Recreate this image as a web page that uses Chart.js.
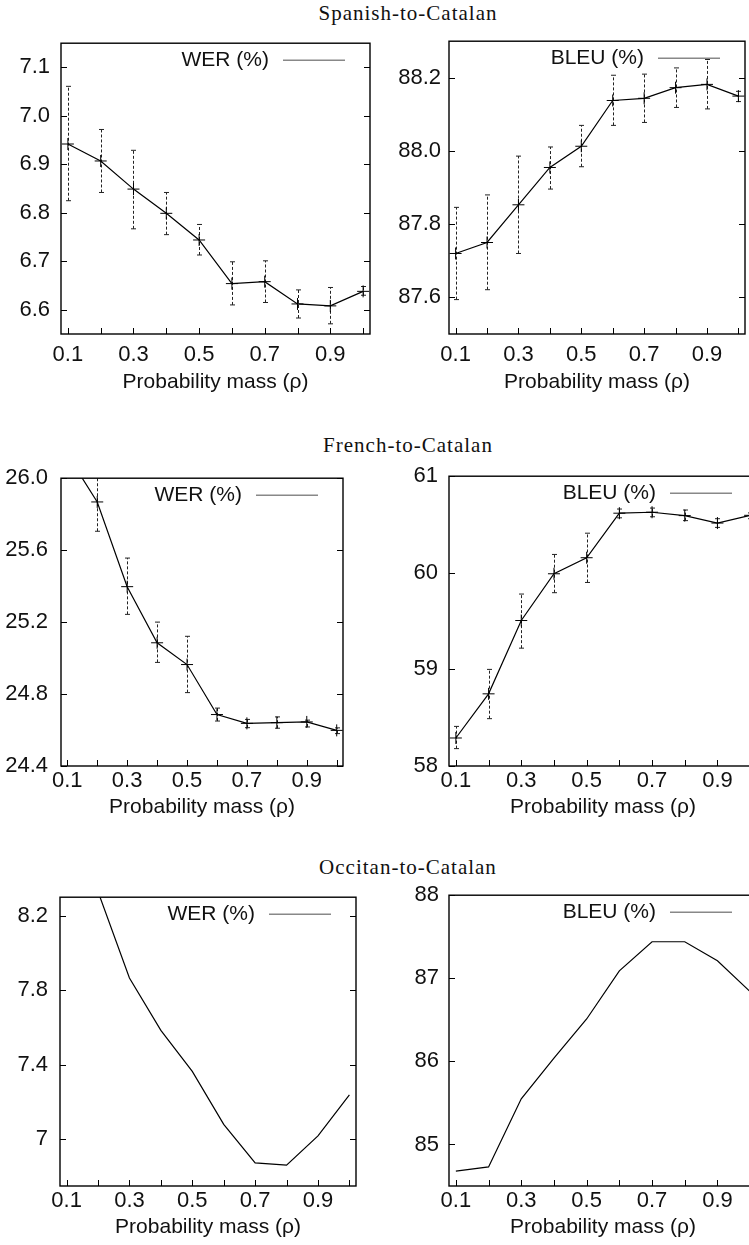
<!DOCTYPE html>
<html>
<head>
<meta charset="utf-8">
<script src="https://cdn.jsdelivr.net/npm/chart.js@4.4.0/dist/chart.umd.min.js"></script>
<style>
html, body { margin: 0; padding: 0; background: #fff; overflow: hidden; }
body { position: relative; width: 749px; height: 1245px; }
canvas { position: absolute; }
.row-title {
    position: absolute; left: 208px; width: 400px; text-align: center;
    font-family: "Liberation Serif", serif; font-size: 21px; letter-spacing: 1px;
    line-height: 21px; color: #111; white-space: nowrap;
}
</style>
</head>
<body>
<div class="row-title" style="top:3px">Spanish-to-Catalan</div>
<div class="row-title" style="top:435px">French-to-Catalan</div>
<div class="row-title" style="top:857px">Occitan-to-Catalan</div>
<canvas id="esWer"></canvas>
<canvas id="esBleu"></canvas>
<canvas id="frWer"></canvas>
<canvas id="frBleu"></canvas>
<canvas id="ocWer"></canvas>
<canvas id="ocBleu"></canvas>
<script>
// x values (probability mass rho)
const mass = [0.1, 0.2, 0.3, 0.4, 0.5, 0.6, 0.7, 0.8, 0.9, 1.0];
const massLabelled = [0.1, 0.3, 0.5, 0.7, 0.9];

// Spanish-to-Catalan
const werEs = [6.942, 6.907, 6.849, 6.799, 6.744, 6.654, 6.658, 6.612, 6.608, 6.638];
const werEsLow = [6.825, 6.842, 6.767, 6.755, 6.713, 6.610, 6.615, 6.583, 6.571, 6.630];
const werEsHigh = [7.061, 6.972, 6.929, 6.842, 6.776, 6.699, 6.701, 6.641, 6.646, 6.648];
const bleuEs = [87.720, 87.750, 87.853, 87.955, 88.013, 88.138, 88.144, 88.173, 88.182, 88.150];
const bleuEsLow = [87.594, 87.621, 87.720, 87.896, 87.957, 88.070, 88.078, 88.119, 88.115, 88.135];
const bleuEsHigh = [87.846, 87.880, 87.986, 88.011, 88.070, 88.207, 88.210, 88.227, 88.250, 88.163];

// French-to-Catalan
const werFr = [26.132, 25.868, 25.397, 25.085, 24.964, 24.686, 24.637, 24.641, 24.645, 24.598];
const werFrLow = [26.020, 25.705, 25.243, 24.976, 24.808, 24.650, 24.613, 24.610, 24.617, 24.580];
const werFrHigh = [26.250, 26.030, 25.556, 25.200, 25.121, 24.722, 24.659, 24.673, 24.655, 24.612];
const bleuFr = [58.290, 58.747, 59.506, 59.990, 60.156, 60.617, 60.627, 60.592, 60.515, 60.595];
const bleuFrLow = [58.180, 58.490, 59.220, 59.794, 59.900, 60.569, 60.580, 60.540, 60.470, 60.560];
const bleuFrHigh = [58.410, 59.000, 59.780, 60.190, 60.410, 60.660, 60.670, 60.650, 60.560, 60.620];

// Occitan-to-Catalan (no error bars)
const werOc = [8.850, 8.330, 7.866, 7.585, 7.365, 7.081, 6.874, 6.862, 7.019, 7.239];
const bleuOc = [84.68, 84.73, 85.55, 86.04, 86.51, 87.09, 87.44, 87.44, 87.21, 86.84];

// y tick labels of each panel
const ticksEsWer = ['6.6', '6.7', '6.8', '6.9', '7.0', '7.1'];
const ticksEsBleu = ['87.6', '87.8', '88.0', '88.2'];
const ticksFrWer = ['24.4', '24.8', '25.2', '25.6', '26.0'];
const ticksFrBleu = ['58', '59', '60', '61'];
const ticksOcWer = ['7', '7.4', '7.8', '8.2'];
const ticksOcBleu = ['85', '86', '87', '88'];

const SANS = '"Liberation Sans", Arial, sans-serif';
const INK = '#111';

function seg(ctx, x1, y1, x2, y2) {
    ctx.beginPath();
    ctx.moveTo(x1, y1);
    ctx.lineTo(x2, y2);
    ctx.stroke();
}

// gnuplot-like frame: error bars, closed box, inward ticks and the key
const frame = {
    id: 'frame',
    beforeDatasetsDraw(chart) {
        const ds = chart.data.datasets[0];
        if (!ds.errLow) return;
        const ctx = chart.ctx, ca = chart.chartArea;
        const xs = chart.scales.x, ys = chart.scales.y;
        ctx.save();
        ctx.beginPath();
        ctx.rect(ca.left, ca.top, ca.right - ca.left, ca.bottom - ca.top);
        ctx.clip();
        ctx.strokeStyle = '#222';
        ctx.lineWidth = 1;
        for (let i = 0; i < mass.length; i++) {
            let px = Math.round(xs.getPixelForValue(mass[i])) + 0.5;
            let pl = ys.getPixelForValue(ds.errLow[i]);
            let ph = ys.getPixelForValue(ds.errHigh[i]);
            ctx.setLineDash([3, 2]);
            seg(ctx, px, pl, px, ph);
            ctx.setLineDash([]);
            seg(ctx, px - 2.5, pl, px + 2.5, pl);
            seg(ctx, px - 2.5, ph, px + 2.5, ph);
        }
        ctx.restore();
    },
    afterDraw(chart, args, opts) {
        const ctx = chart.ctx, ca = chart.chartArea;
        const xs = chart.scales.x, ys = chart.scales.y;
        ctx.save();
        ctx.strokeStyle = '#000';
        ctx.lineWidth = 1;
        for (let v of mass) {
            let px = Math.round(xs.getPixelForValue(v)) + 0.5;
            seg(ctx, px, ca.bottom, px, ca.bottom - 6);
        }
        for (let v of opts.yTicks) {
            let py = Math.round(ys.getPixelForValue(Number(v))) + 0.5;
            seg(ctx, ca.left, py, ca.left + 6, py);
            seg(ctx, ca.right, py, ca.right - 6, py);
        }
        ctx.lineWidth = 1.4;
        ctx.strokeRect(ca.left, ca.top, ca.right - ca.left, ca.bottom - ca.top);

        // key: label then line sample
        ctx.font = '21px ' + SANS;
        ctx.fillStyle = INK;
        ctx.textAlign = 'right';
        ctx.textBaseline = 'middle';
        ctx.fillText(chart.data.datasets[0].label, ca.right - 101, ca.top + 17);
        ctx.strokeStyle = '#888';
        ctx.lineWidth = 1.5;
        seg(ctx, ca.right - 87, ca.top + 17, ca.right - 25, ca.top + 17);
        ctx.restore();
    }
};

function panel(id, box, yMin, yMax, yTicks, yPad, label, values, low, high, topRow) {
    const cv = document.getElementById(id);
    const yAxisW = 60, xAxisH = 70, padTop = 20, padRight = 8;
    cv.width = box.r - box.l + yAxisW + padRight;
    cv.height = box.b - box.t + padTop + xAxisH;
    cv.style.left = (box.l - yAxisW) + 'px';
    cv.style.top = (box.t - padTop) + 'px';

    const withBars = !!low;
    return new Chart(cv.getContext('2d'), {
        type: 'line',
        data: {
            datasets: [{
                label: label,
                data: mass.map((m, i) => ({ x: m, y: values[i] })),
                errLow: low,
                errHigh: high,
                borderColor: '#000',
                borderWidth: 1.2,
                tension: 0,
                fill: false,
                pointStyle: 'cross',
                pointRadius: withBars ? 6 : 0,
                pointBorderWidth: 1,
                pointBorderColor: '#000'
            }]
        },
        options: {
            responsive: false,
            animation: false,
            events: [],
            layout: { padding: { left: 0, top: padTop, right: padRight, bottom: 0 } },
            plugins: {
                legend: { display: false },
                tooltip: { enabled: false },
                frame: { yTicks: yTicks }
            },
            scales: {
                x: {
                    type: 'linear',
                    min: 0.079,
                    max: 1.021,
                    grid: { display: false, drawTicks: false },
                    border: { display: false },
                    afterBuildTicks: s => { s.ticks = mass.map(v => ({ value: v })); },
                    afterFit: s => { s.height = xAxisH; },
                    ticks: {
                        autoSkip: false,
                        maxRotation: 0,
                        padding: topRow ? 8 : 2,
                        color: INK,
                        font: { family: SANS, size: 22 },
                        callback: v => (massLabelled.includes(v) ? v.toFixed(1) : '')
                    },
                    title: {
                        display: true,
                        text: 'Probability mass (ρ)',
                        color: INK,
                        font: { family: SANS, size: 21 },
                        padding: { top: 0, bottom: topRow ? 9 : 16 }
                    }
                },
                y: {
                    min: yMin,
                    max: yMax,
                    grid: { display: false, drawTicks: false },
                    border: { display: false },
                    afterBuildTicks: s => { s.ticks = yTicks.map(v => ({ value: Number(v), label: v })); },
                    afterFit: s => { s.width = yAxisW; },
                    ticks: {
                        padding: yPad,
                        color: INK,
                        font: { family: SANS, size: 22 },
                        callback: (v, i) => yTicks[i]
                    }
                }
            }
        },
        plugins: [frame]
    });
}

panel('esWer', { l: 61, t: 39, r: 370, b: 334 }, 6.55, 7.15, ticksEsWer, 11,
    'WER (%)', werEs, werEsLow, werEsHigh, true);
panel('esBleu', { l: 449, t: 40, r: 745, b: 334 }, 87.5, 88.3, ticksEsBleu, 8,
    'BLEU (%)', bleuEs, bleuEsLow, bleuEsHigh, true);
panel('frWer', { l: 61, t: 472, r: 343, b: 766 }, 24.4, 26.0, ticksFrWer, 13,
    'WER (%)', werFr, werFrLow, werFrHigh, false);
panel('frBleu', { l: 449, t: 472, r: 757, b: 766 }, 58, 61, ticksFrBleu, 11,
    'BLEU (%)', bleuFr, bleuFrLow, bleuFrHigh, false);
panel('ocWer', { l: 60, t: 892, r: 356, b: 1186 }, 6.75, 8.3, ticksOcWer, 12,
    'WER (%)', werOc, null, null, false);
panel('ocBleu', { l: 449, t: 892, r: 757, b: 1186 }, 84.5, 88, ticksOcBleu, 10,
    'BLEU (%)', bleuOc, null, null, false);
</script>
</body>
</html>
